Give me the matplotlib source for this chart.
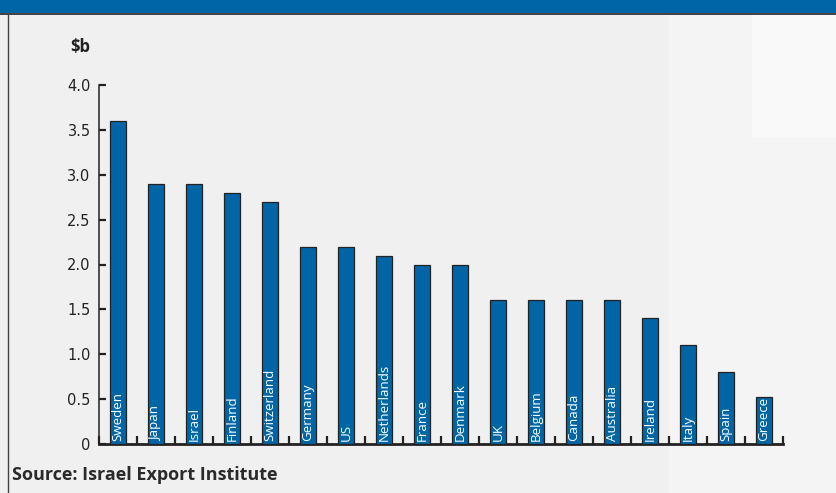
import matplotlib.pyplot as plt
import numpy as np
from matplotlib.patches import Rectangle

# Exportaciones por país ($b)
paises = ["Sweden", "Japan", "Israel", "Finland", "Switzerland", "Germany", "US",
          "Netherlands", "France", "Denmark", "UK", "Belgium", "Canada", "Australia",
          "Ireland", "Italy", "Spain", "Greece"]
valores = [3.6, 2.9, 2.9, 2.8, 2.7, 2.2, 2.2, 2.1, 2.0, 2.0, 1.6, 1.6, 1.6, 1.6,
           1.4, 1.1, 0.8, 0.52]
y_ticks = [0, 0.5, 1.0, 1.5, 2.0, 2.5, 3.0, 3.5, 4.0]
y_labels = ["0", "0.5", "1.0", "1.5", "2.0", "2.5", "3.0", "3.5", "4.0"]

AZUL = "#0065a5"
FONDO = "#f0f0f0"

fig = plt.figure(figsize=(8.36, 4.93), dpi=100)
fig.patch.set_facecolor(FONDO)

# Fondo: zonas algo más claras a la derecha
fig.patches.append(Rectangle((0.80, 0.0), 0.20, 1.0, transform=fig.transFigure,
                             facecolor="#f4f4f4", edgecolor="none", zorder=-2))
fig.patches.append(Rectangle((0.90, 0.72), 0.10, 0.26, transform=fig.transFigure,
                             facecolor="#f9f9f9", edgecolor="none", zorder=-2))

# Banda superior y borde izquierdo
fig.patches.append(Rectangle((0, 1 - 13 / 493), 1, 13 / 493, transform=fig.transFigure,
                             facecolor=AZUL, edgecolor="none", zorder=5))
fig.add_artist(plt.Line2D([0, 1], [1 - 13.5 / 493] * 2, transform=fig.transFigure,
                          color="#333333", lw=1.3, zorder=6))
fig.add_artist(plt.Line2D([7.5 / 836] * 2, [0, 1 - 13 / 493], transform=fig.transFigure,
                          color="#444444", lw=1.0, zorder=6))

ax = fig.add_axes([99 / 836, 49 / 493, 684 / 836, 359 / 493])
ax.set_facecolor("none")

x = np.arange(len(paises))
ax.bar(x, valores, width=0.4, color=AZUL, edgecolor="#222222", linewidth=0.9, zorder=3)

for xi, nombre in zip(x, paises):
    ax.text(xi, 0.03, nombre, rotation=90, ha="center", va="bottom",
            color="white", fontsize=9.6, family="Open Sans", zorder=4)

ax.set_xlim(-0.5, len(paises) - 0.5)
ax.set_ylim(0, 4.0)
ax.set_yticks(y_ticks)
ax.set_yticklabels(y_labels, fontsize=10.5, color="#222222")
ax.set_xticks(np.arange(len(paises) + 1) - 0.5)
ax.set_xticklabels([])

for lado in ("top", "right"):
    ax.spines[lado].set_visible(False)
ax.spines["left"].set_linewidth(1.1)
ax.spines["bottom"].set_linewidth(2.0)
ax.spines["left"].set_color("#222222")
ax.spines["bottom"].set_color("#222222")
ax.tick_params(axis="y", direction="in", length=5, width=1.6, pad=6, color="#222222")
ax.tick_params(axis="x", direction="in", length=6, width=1.6, color="#222222")

fig.text(70 / 836, 1 - 47 / 493, "$b", fontsize=12, fontweight="bold",
         color="#222222", va="center", ha="left", family="Open Sans")
fig.text(12 / 836, 1 - 475 / 493, "Source: Israel Export Institute", fontsize=13,
         fontweight="bold", color="#2a2a2a", va="center", ha="left", family="Open Sans")

fig.savefig("out.png", dpi=100, facecolor=fig.get_facecolor())
